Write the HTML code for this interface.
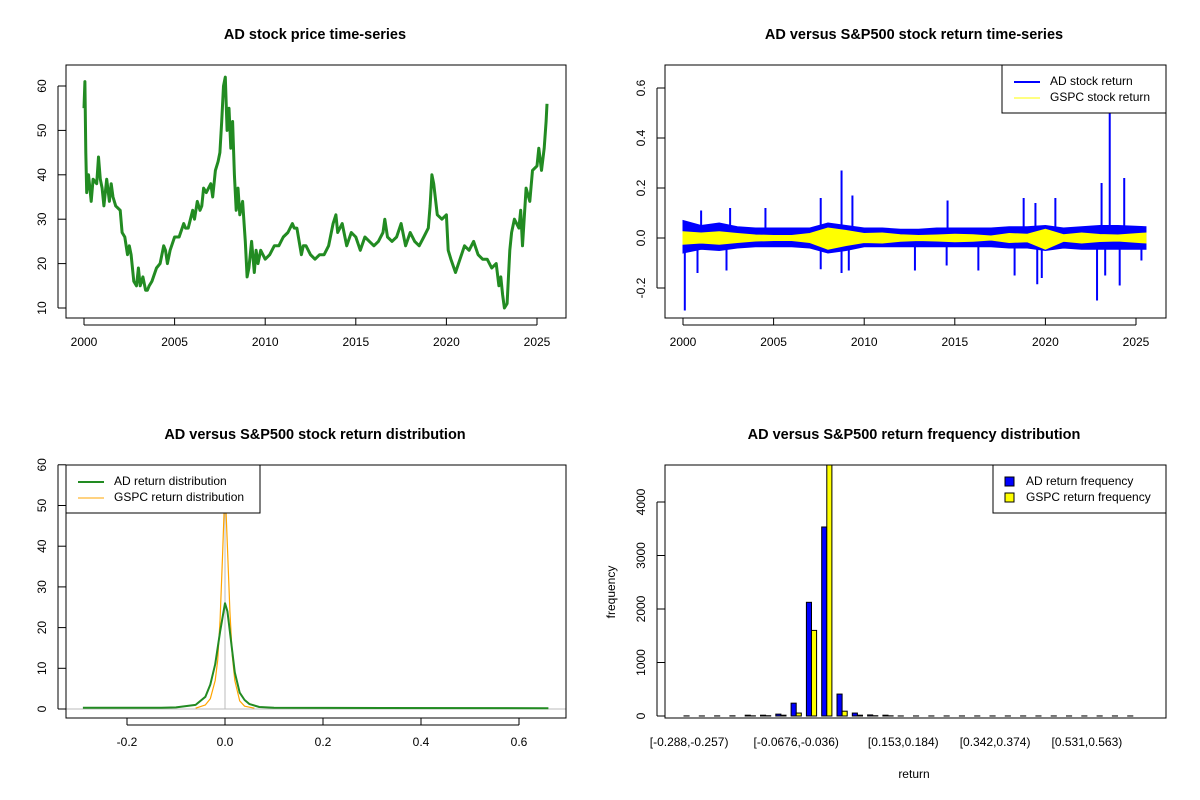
<!DOCTYPE html>
<html><head><meta charset="utf-8"><style>
body{margin:0;background:#fff}
svg{display:block;font-family:"Liberation Sans",Arial,sans-serif}
.t{font-size:12px}
.ti{font-size:14.5px;font-weight:bold}
</style></head><body>
<svg id="s" width="1200" height="800" viewBox="0 0 1200 800"></svg>
<script>
// ---------- DATA ----------
const priceYears=[2000.00,2000.05,2000.10,2000.15,2000.25,2000.4,2000.5,2000.7,2000.8,2000.9,2001.0,2001.1,2001.25,2001.4,2001.5,2001.6,2001.75,2002.0,2002.1,2002.25,2002.4,2002.5,2002.6,2002.75,2002.9,2003.0,2003.1,2003.25,2003.4,2003.5,2003.6,2003.75,2004.0,2004.2,2004.4,2004.5,2004.6,2004.75,2005.0,2005.25,2005.5,2005.6,2005.75,2006.0,2006.1,2006.25,2006.4,2006.5,2006.6,2006.75,2007.0,2007.1,2007.25,2007.4,2007.5,2007.6,2007.7,2007.8,2007.9,2008.0,2008.1,2008.2,2008.3,2008.4,2008.5,2008.6,2008.75,2008.9,2009.0,2009.1,2009.25,2009.4,2009.5,2009.6,2009.75,2010.0,2010.25,2010.5,2010.75,2011.0,2011.25,2011.5,2011.6,2011.75,2012.0,2012.1,2012.25,2012.5,2012.75,2013.0,2013.25,2013.5,2013.75,2013.9,2014.0,2014.25,2014.5,2014.75,2015.0,2015.25,2015.5,2015.75,2016.0,2016.25,2016.5,2016.6,2016.75,2017.0,2017.25,2017.5,2017.75,2018.0,2018.25,2018.5,2018.75,2019.0,2019.1,2019.2,2019.3,2019.5,2019.75,2020.0,2020.1,2020.25,2020.5,2020.75,2021.0,2021.25,2021.5,2021.75,2022.0,2022.25,2022.5,2022.75,2022.9,2023.0,2023.1,2023.2,2023.35,2023.5,2023.6,2023.75,2024.0,2024.1,2024.2,2024.4,2024.6,2024.75,2025.0,2025.1,2025.25,2025.4,2025.5,2025.55];
const priceValues=[55,61,45,36,40,34,39,38,44,39,37,33,39,34,38,35,33,32,27,26,22,24,22,16,15,19,15,17,14,14,15,16,19,20,24,23,20,23,26,26,29,28,28,32,30,34,32,33,37,36,38,35,41,43,45,52,60,62,50,55,46,52,40,32,37,31,34,25,17,19,25,18,23,20,23,21,22,24,24,26,27,29,28,28,22,24,24,22,21,22,22,24,29,31,27,29,24,27,26,23,26,25,24,25,27,30,26,25,26,29,24,27,25,24,26,28,33,40,38,31,30,31,23,21,18,21,24,23,25,22,21,21,19,20,15,17,13,10,11,23,27,30,28,32,24,37,34,41,42,46,41,46,52,56];
const xTickYears=[2000,2005,2010,2015,2020,2025];
const priceTicks=[10,20,30,40,50,60];
const envYears=[2000,2001,2002,2003,2004,2005,2006,2007,2008,2009,2010,2011,2012,2013,2014,2015,2016,2017,2018,2019,2020,2021,2022,2023,2024,2025.55];
const adUpper=[0.07,0.05,0.06,0.045,0.04,0.04,0.04,0.04,0.06,0.05,0.04,0.04,0.035,0.035,0.04,0.04,0.04,0.04,0.045,0.045,0.05,0.04,0.045,0.05,0.05,0.045];
const adLower=[-0.06,-0.045,-0.05,-0.04,-0.035,-0.035,-0.035,-0.04,-0.06,-0.05,-0.035,-0.035,-0.035,-0.035,-0.035,-0.035,-0.035,-0.035,-0.04,-0.04,-0.05,-0.04,-0.045,-0.045,-0.045,-0.045];
const gspcUpper=[0.025,0.02,0.025,0.018,0.012,0.01,0.01,0.018,0.04,0.03,0.018,0.02,0.013,0.01,0.012,0.015,0.013,0.008,0.018,0.015,0.035,0.013,0.02,0.014,0.012,0.02];
const gspcLower=[-0.025,-0.02,-0.025,-0.018,-0.012,-0.01,-0.01,-0.018,-0.045,-0.03,-0.018,-0.02,-0.013,-0.01,-0.012,-0.015,-0.013,-0.008,-0.018,-0.015,-0.045,-0.013,-0.02,-0.014,-0.012,-0.02];
const spikeYears=[0.1,1.0,0.8,2.6,2.4,4.55,7.6,7.6,8.75,8.75,9.35,9.15,12.8,14.6,14.55,16.3,18.8,18.3,19.55,19.45,20.55,19.8,22.85,23.1,23.55,24.35,24.1,23.3,25.3];
const spikeValues=[-0.29,0.11,-0.14,0.12,-0.13,0.12,0.16,-0.125,0.27,-0.14,0.17,-0.13,-0.13,0.15,-0.11,-0.13,0.16,-0.15,-0.185,0.14,0.16,-0.16,-0.25,0.22,0.50,0.24,-0.19,-0.15,-0.09];
const retTicks=[-0.2,0,0.2,0.4,0.6];
const retTickLabels=["-0.2","0.0","0.2","0.4","0.6"];
const adDensX=[-0.29,-0.13,-0.1,-0.06,-0.04,-0.03,-0.02,-0.01,0,0.005,0.01,0.02,0.03,0.04,0.05,0.07,0.1,0.66];
const adDensY=[0.3,0.3,0.4,1,3,6,11,19,26,24,19,9,4,2.2,1.2,0.5,0.3,0.2];
const gsDensX=[-0.06,-0.04,-0.03,-0.02,-0.015,-0.01,-0.005,0,0.005,0.01,0.015,0.02,0.03,0.04,0.06];
const gsDensY=[0.2,1,2.5,7,12,22,38,55,40,24,13,7,2,0.7,0.2];
const densXTicks=[-0.2,0,0.2,0.4,0.6];
const densXLabels=["-0.2","0.0","0.2","0.4","0.6"];
const densYTicks=[0,10,20,30,40,50,60];
const adFreq=[2,1,2,3,15,15,35,240,2125,3533,410,55,20,15,1,1,1,1,1,1,1,1,1,1,1,1,1,1,1,1];
const gsFreq=[0,0,0,0,3,5,15,55,1600,5200,90,15,5,3,0,0,0,0,0,0,0,0,0,0,0,0,0,0,0,0];
const binLabelIdx=[0,7,14,20,26];
const binLabels=["[-0.288,-0.257)","[-0.0676,-0.036)","[0.153,0.184)","[0.342,0.374)","[0.531,0.563)"];
const freqTicks=[0,1000,2000,3000,4000];

// ---------- HELPERS ----------
const S=document.getElementById('s'),NS='http://www.w3.org/2000/svg';
function mk(tag,at,txt){const e=document.createElementNS(NS,tag);for(const k in at)e.setAttribute(k,at[k]);if(txt!==undefined)e.textContent=txt;S.appendChild(e);return e;}
function text(x,y,s,cls,rot,anchor){const e=mk('text',{x:x,y:y,'class':cls,'text-anchor':anchor||'middle','dominant-baseline':'middle'},s);if(rot)e.setAttribute('transform','rotate(-90 '+x+' '+y+')');return e;}
function line(x1,y1,x2,y2,st,w){return mk('line',{x1:x1,y1:y1,x2:x2,y2:y2,stroke:st||'#000','stroke-width':w||1});}
function box(x1,y1,x2,y2){return mk('rect',{x:x1,y:y1,width:x2-x1,height:y2-y1,fill:'none',stroke:'#000'});}
function poly(pts,st,w){return mk('polyline',{points:pts.map(p=>p[0].toFixed(1)+','+p[1].toFixed(1)).join(' '),fill:'none',stroke:st,'stroke-width':w,'stroke-linejoin':'round'});}

// ---------- PANEL 1 ----------
const px1=y=>84+(y-2000)*18.12, py1=v=>308-(v-10)*4.44;
let e;
e=text(315,35,'AD stock price time-series','ti');

e=poly(priceYears.map((y,i)=>[px1(y),py1(priceValues[i])]),'#228B22',3);

e=box(66,65,566,318);
line(px1(2000),325,px1(2025),325);
xTickYears.forEach(y=>{line(px1(y),318,px1(y),325);e=text(px1(y),343,String(y),'t');});
line(58,py1(10),58,py1(60));
priceTicks.forEach(v=>{line(58,py1(v),66,py1(v));e=text(43,py1(v),String(v),'t',true);});

// ---------- PANEL 2 ----------
const px2=y=>683+(y-2000)*18.12, py2=v=>238-v*250;
e=text(914,35,'AD versus S&P500 stock return time-series','ti');

const envPoly=(up,lo,col)=>{const pts=envYears.map((y,i)=>[px2(y),py2(up[i])]).concat(envYears.slice().reverse().map((y,j)=>[px2(y),py2(lo[envYears.length-1-j])]));return mk('polygon',{points:pts.map(p=>p.join(',')).join(' '),fill:col,stroke:col,'stroke-width':1});};
e=envPoly(adUpper,adLower,'#0000FF');
spikeYears.forEach((y,i)=>{e=line(px2(2000+y),py2(0),px2(2000+y),py2(spikeValues[i]),'#0000FF',2);});
e=envPoly(gspcUpper,gspcLower,'#FFFF00');
box(665,65,1166,318);
line(px2(2000),325,px2(2025),325);
xTickYears.forEach(y=>{line(px2(y),318,px2(y),325);text(px2(y),343,String(y),'t');});
line(657,py2(-0.2),657,py2(0.6));
retTicks.forEach((v,i)=>{line(657,py2(v),665,py2(v));text(642,py2(v),retTickLabels[i],'t',true);});
e=mk('rect',{x:1002,y:65,width:164,height:48,fill:'#fff',stroke:'#000'});
line(1014,82,1040,82,'#0000FF',2);text(1050,82,'AD stock return','t',false,'start');
line(1014,98,1040,98,'#FFFF00',1);text(1050,98,'GSPC stock return','t',false,'start');

// ---------- PANEL 3 ----------
const px3=x=>225+x*490, py3=v=>709-v*4.07;
e=text(315,435,'AD versus S&P500 stock return distribution','ti');

line(66,py3(0),566,py3(0),'#bbb',1);
line(px3(0),py3(0),px3(0),465,'#bbb',1);
e=poly(gsDensX.map((x,i)=>[px3(x),py3(gsDensY[i])]),'#FFA500',1.2);
e=poly(adDensX.map((x,i)=>[px3(x),py3(adDensY[i])]),'#228B22',2);
box(66,465,566,718);
line(px3(-0.2),725,px3(0.6),725);
densXTicks.forEach((x,i)=>{line(px3(x),718,px3(x),725);text(px3(x),743,densXLabels[i],'t');});
line(58,py3(0),58,py3(60));
densYTicks.forEach(v=>{line(58,py3(v),66,py3(v));text(43,py3(v),String(v),'t',true);});
e=mk('rect',{x:66,y:465,width:194,height:48,fill:'#fff',stroke:'#000'});
line(78,482,104,482,'#228B22',2);text(114,482,'AD return distribution','t',false,'start');
line(78,498,104,498,'#FFA500',1);text(114,498,'GSPC return distribution','t',false,'start');

// ---------- PANEL 4 ----------
const gx=i=>684+i*15.3, bw=5.1, py4=v=>716-v*0.0535;
e=text(914,435,'AD versus S&P500 return frequency distribution','ti');

mk('clipPath',{id:'c4'}).appendChild(document.createElementNS(NS,'rect'));
const cr=S.querySelector('#c4 rect');cr.setAttribute('x',665);cr.setAttribute('y',465);cr.setAttribute('width',501);cr.setAttribute('height',253);
adFreq.forEach((v,i)=>{
 e=mk('rect',{x:gx(i),y:py4(v),width:bw,height:Math.max(716-py4(v),0),fill:'#0000FF',stroke:'#000','stroke-width':1,'clip-path':'url(#c4)'});
 
 e=mk('rect',{x:gx(i)+bw,y:py4(gsFreq[i]),width:bw,height:Math.max(716-py4(gsFreq[i]),0),fill:'#FFFF00',stroke:'#000','stroke-width':1,'clip-path':'url(#c4)'});
 
});
box(665,465,1166,718);
binLabelIdx.forEach((g,k)=>{e=text(gx(g)+bw,743,binLabels[k],'t');});
line(657,py4(0),657,py4(4000));
freqTicks.forEach(v=>{line(657,py4(v),665,py4(v));text(642,py4(v),String(v),'t',true);});
e=text(612,592,'frequency','t',true);
e=text(914,775,'return','t');
e=mk('rect',{x:993,y:465,width:173,height:48,fill:'#fff',stroke:'#000'});
mk('rect',{x:1005,y:477,width:9,height:9,fill:'#0000FF',stroke:'#000'});text(1026,482,'AD return frequency','t',false,'start');
mk('rect',{x:1005,y:493,width:9,height:9,fill:'#FFFF00',stroke:'#000'});text(1026,498,'GSPC return frequency','t',false,'start');
</script>
</body></html>
